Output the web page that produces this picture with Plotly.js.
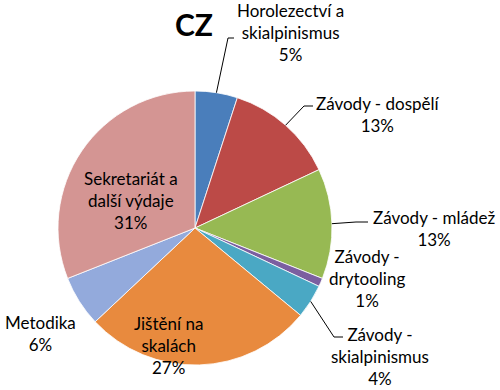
<!DOCTYPE html>
<html><head><meta charset="utf-8">
<script src="https://cdn.plot.ly/plotly-3.0.1.min.js"></script>
<style>html,body{margin:0;padding:0;background:#fff}#chart{width:500px;height:390px}</style>
</head><body><div id="chart"></div>
<script>
const categories = ["Horolezectví a skialpinismus","Závody - dospělí","Závody - mládež","Závody - drytooling","Závody - skialpinismus","Jištění na skalách","Metodika","Sekretariát a další výdaje"];
const labelLines = ["Horolezectví a<br>skialpinismus","Závody - dospělí","Závody - mládež","Závody -<br>drytooling","Závody -<br>skialpinismus","Jištění na<br>skalách","Metodika","Sekretariát a<br>další výdaje"];
const values = [5, 13, 13, 1, 4, 27, 6, 31];
const colors = ["#4A7EBB","#BC4A47","#97B953","#7B5FA0","#4AA8C4","#E88A3E","#93AADC","#D49593"];

const W = 500, H = 390;
const cx = 195, cy = 228, R = 137;
// label centre positions (px) and leader elbows
const labelPos = [[290,32],[378,114],[434,228],[367,278],[380,356],[168,345],[40,333],[131,201]];
const leaders = [[[228,38],[234,38]],[[304,106],[313,106]],[[356,222],[368,222]],null,[[334,337],[343,337]],null,null,null];

const total = values.reduce((a,b)=>a+b,0);
const px = x => x / W, py = y => 1 - y / H;
const annotations = [{text:"<b>CZ</b>", x:px(194), y:py(24), xref:"paper", yref:"paper", xanchor:"center", yanchor:"middle", showarrow:false, font:{size:30,family:"Lato, sans-serif",color:"#000"}}];
const shapes = [];
let cum = 0;
values.forEach((v,i)=>{
  const mid = (cum + v/2) / total * 2 * Math.PI; cum += v;
  const pct = Math.round(v/total*100) + "%";
  annotations.push({text: labelLines[i] + "<br>" + pct, x:px(labelPos[i][0]), y:py(labelPos[i][1]), xref:"paper", yref:"paper", xanchor:"center", yanchor:"middle", showarrow:false, align:"center", font:{size:17,family:"Lato, sans-serif",color:"#000"}});
  if (leaders[i]) {
    const ex = cx + R*Math.sin(mid), ey = cy - R*Math.cos(mid);
    let path = `M ${px(ex)},${py(ey)}`;
    leaders[i].forEach(p=>{ path += ` L ${px(p[0])},${py(p[1])}`; });
    shapes.push({type:"path", xref:"paper", yref:"paper", path:path, line:{color:"#000", width:1}});
  }
});

const data = [{
  type:"pie", labels:categories, values:values, sort:false, direction:"clockwise", rotation:0,
  textinfo:"none", hoverinfo:"label+percent",
  marker:{colors:colors, line:{color:"#ffffff", width:0.8}},
  domain:{x:[(cx-R)/W,(cx+R)/W], y:[1-(cy+R)/H, 1-(cy-R)/H]}
}];
const layout = {width:W, height:H, margin:{l:0,r:0,t:0,b:0}, showlegend:false, paper_bgcolor:"#fff", annotations:annotations, shapes:shapes};
Plotly.newPlot("chart", data, layout, {displayModeBar:false, staticPlot:true});
</script></body></html>
